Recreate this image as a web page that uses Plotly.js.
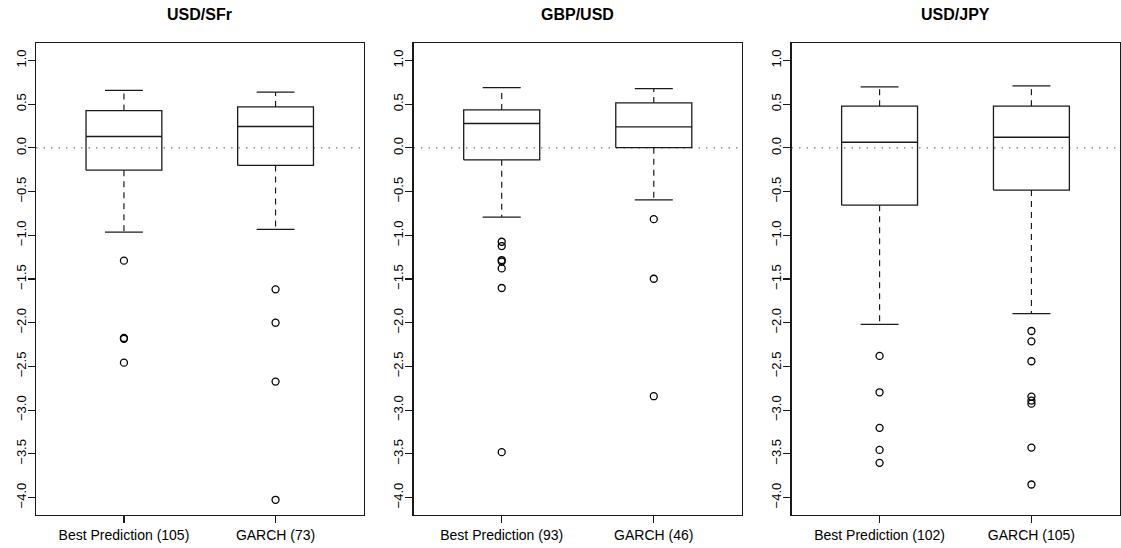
<!DOCTYPE html>
<html>
<head>
<meta charset="utf-8">
<script src="https://cdn.plot.ly/plotly-3.0.1.min.js"></script>
<style>html,body{margin:0;padding:0;background:#fff;}#chart{width:1121px;height:548px;}</style>
</head>
<body>
<div id="chart"></div>
<script>
// ---- data ----
const panelTitles = ['USD/SFr', 'GBP/USD', 'USD/JPY'];

const sfrLabels = ['Best Prediction (105)', 'GARCH (73)'];
const sfrLower  = [-0.963, -0.933];
const sfrQ1     = [-0.255, -0.201];
const sfrMedian = [0.130, 0.244];
const sfrQ3     = [0.427, 0.469];
const sfrUpper  = [0.659, 0.637];
const sfrOutBest  = [-1.29, -2.175, -2.185, -2.457];
const sfrOutGarch = [-1.618, -2.0, -2.674, -4.026];

const gbpLabels = ['Best Prediction (93)', 'GARCH (46)'];
const gbpLower  = [-0.792, -0.594];
const gbpQ1     = [-0.137, 0.003];
const gbpMedian = [0.279, 0.240];
const gbpQ3     = [0.434, 0.514];
const gbpUpper  = [0.690, 0.679];
const gbpOutBest  = [-1.074, -1.123, -1.283, -1.30, -1.379, -1.603, -3.481];
const gbpOutGarch = [-0.815, -1.497, -2.841];

const jpyLabels = ['Best Prediction (102)', 'GARCH (105)'];
const jpyLower  = [-2.018, -1.897];
const jpyQ1     = [-0.655, -0.483];
const jpyMedian = [0.065, 0.122];
const jpyQ3     = [0.477, 0.477];
const jpyUpper  = [0.697, 0.709];
const jpyOutBest  = [-2.38, -2.796, -3.203, -3.455, -3.603];
const jpyOutGarch = [-2.095, -2.213, -2.441, -2.845, -2.891, -2.926, -3.429, -3.851];

const yTicks = [-4.0, -3.5, -3.0, -2.5, -2.0, -1.5, -1.0, -0.5, 0.0, 0.5, 1.0];

// ---- build ----
const panels = [
  {labels: sfrLabels, lo: sfrLower, q1: sfrQ1, med: sfrMedian, q3: sfrQ3, hi: sfrUpper, out: [sfrOutBest, sfrOutGarch]},
  {labels: gbpLabels, lo: gbpLower, q1: gbpQ1, med: gbpMedian, q3: gbpQ3, hi: gbpUpper, out: [gbpOutBest, gbpOutGarch]},
  {labels: jpyLabels, lo: jpyLower, q1: jpyQ1, med: jpyMedian, q3: jpyQ3, hi: jpyUpper, out: [jpyOutBest, jpyOutGarch]}
];

const W = 1121, H = 548;
const xDomains = [[36/W, 363.5/W], [413.5/W, 742/W], [791.5/W, 1119.5/W]];
const yDomain = [33/H, 505/H];
const halfBox = 0.25, halfCap = 0.125;
const ink = '#1a1a1a';
const FONT = 'Liberation Sans, Arial, sans-serif';

const traces = [];
const layout = {
  width: W, height: H,
  margin: {l: 0, r: 0, t: 0, b: 0},
  paper_bgcolor: '#fff', plot_bgcolor: '#fff',
  showlegend: false,
  font: {family: FONT, size: 14, color: '#000'},
  shapes: [], annotations: []
};

panels.forEach((p, k) => {
  const sfx = k === 0 ? '' : String(k + 1);
  const xa = 'x' + sfx, ya = 'y' + sfx;
  const bx = [], by = [], mx = [], my = [], wx = [], wy = [], cx = [], cy = [];
  p.labels.forEach((lab, i) => {
    const c = i + 1;
    bx.push(c - halfBox, c + halfBox, c + halfBox, c - halfBox, c - halfBox, null);
    by.push(p.q1[i], p.q1[i], p.q3[i], p.q3[i], p.q1[i], null);
    mx.push(c - halfBox, c + halfBox, null);
    my.push(p.med[i], p.med[i], null);
    wx.push(c, c, null, c, c, null);
    wy.push(p.q3[i], p.hi[i], null, p.q1[i], p.lo[i], null);
    cx.push(c - halfCap, c + halfCap, null, c - halfCap, c + halfCap, null);
    cy.push(p.hi[i], p.hi[i], null, p.lo[i], p.lo[i], null);
  });
  traces.push({type: 'scatter', mode: 'lines', x: wx, y: wy, xaxis: xa, yaxis: ya,
    line: {color: ink, width: 1.2, dash: '6px,5px'}, hoverinfo: 'skip'});
  traces.push({type: 'scatter', mode: 'lines', x: cx, y: cy, xaxis: xa, yaxis: ya,
    line: {color: ink, width: 1.3}, hoverinfo: 'skip'});
  traces.push({type: 'scatter', mode: 'lines', x: bx, y: by, xaxis: xa, yaxis: ya,
    line: {color: ink, width: 1.3}, hoverinfo: 'skip'});
  traces.push({type: 'scatter', mode: 'lines', x: mx, y: my, xaxis: xa, yaxis: ya,
    line: {color: ink, width: 1.4}, hoverinfo: 'skip'});
  p.out.forEach((vals, i) => {
    traces.push({type: 'scatter', mode: 'markers', x: vals.map(() => i + 1), y: vals,
      xaxis: xa, yaxis: ya,
      marker: {symbol: 'circle-open', size: 7, color: '#000', line: {width: 1.3, color: '#000'}}});
  });

  layout['xaxis' + sfx] = {
    domain: xDomains[k], anchor: ya, range: [0.42, 2.58],
    tickvals: p.labels.map((l, i) => i + 1), ticktext: p.labels,
    ticks: 'outside', ticklen: 7, tickwidth: 1.2, tickcolor: ink,
    showline: true, mirror: true, linecolor: ink, linewidth: 1.3,
    showgrid: false, zeroline: false, fixedrange: true,
    tickfont: {family: FONT, size: 14, color: '#000'}
  };
  layout['yaxis' + sfx] = {
    domain: yDomain, anchor: xa, range: [-4.2, 1.2],
    tickvals: yTicks, tickformat: '.1f', tickangle: -90,
    ticks: 'outside', ticklen: 7, tickwidth: 1.2, tickcolor: ink,
    ticklabelstandoff: -3,
    showline: true, mirror: true, linecolor: ink, linewidth: 1.3,
    showgrid: false, zeroline: false, fixedrange: true,
    tickfont: {family: FONT, size: 13, color: '#000'}
  };
  layout.shapes.push({type: 'line', xref: xa + ' domain', yref: ya,
    x0: 0, x1: 1, y0: 0, y1: 0, layer: 'below',
    line: {color: '#555', width: 1, dash: '1.5px,6px'}});
  layout.annotations.push({text: '<b>' + panelTitles[k] + '</b>', xref: 'paper', yref: 'paper',
    x: (xDomains[k][0] + xDomains[k][1]) / 2, y: 1 - 14/H, xanchor: 'center', yanchor: 'middle',
    showarrow: false, font: {family: FONT, size: 16, color: '#000'}});
});

Plotly.newPlot('chart', traces, layout, {staticPlot: true, displayModeBar: false});
</script>
</body>
</html>
